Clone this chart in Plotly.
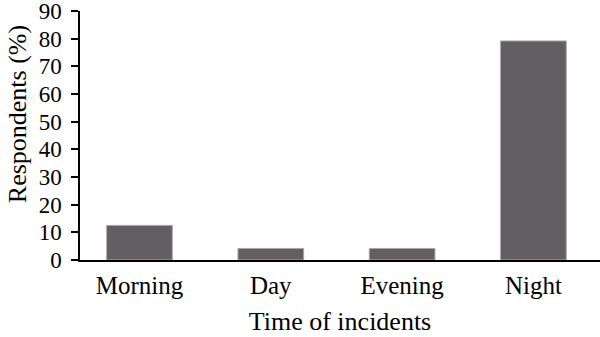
import plotly.graph_objects as go

categories = ["Morning", "Day", "Evening", "Night"]
values = [12.5, 4.17, 4.17, 79.17]
y_ticks = [0, 10, 20, 30, 40, 50, 60, 70, 80, 90]

font_family = "Liberation Serif, Times New Roman, serif"

fig = go.Figure(
    go.Bar(
        x=categories,
        y=values,
        width=0.5,
        marker=dict(color="#625e62", line=dict(color="#a8a5a7", width=1)),
        hoverinfo="x+y",
    )
)

fig.update_layout(
    width=600,
    height=337,
    margin=dict(l=80, r=0, t=11, b=77),
    paper_bgcolor="white",
    plot_bgcolor="white",
    showlegend=False,
    font=dict(family=font_family, size=25, color="black"),
    xaxis=dict(
        range=[-0.453, 3.507],
        showline=True,
        linecolor="black",
        linewidth=1.5,
        ticks="",
        showgrid=False,
        zeroline=False,
        tickfont=dict(size=25),
        ticklabelstandoff=2,
        title=dict(text="Time of incidents", font=dict(size=26), standoff=14),
        automargin=False,
    ),
    yaxis=dict(
        range=[0, 90],
        tickvals=y_ticks,
        showline=True,
        linecolor="black",
        linewidth=1.5,
        ticks="outside",
        ticklen=7,
        tickwidth=1.5,
        tickcolor="black",
        showgrid=False,
        zeroline=False,
        tickfont=dict(size=23),
        ticklabelstandoff=5,
        ticklabeloverflow="allow",
        automargin=False,
    ),
    annotations=[
        dict(
            text="Respondents (%)",
            textangle=-90,
            xref="paper",
            yref="paper",
            x=-0.121,
            y=0.586,
            xanchor="center",
            yanchor="middle",
            showarrow=False,
            font=dict(size=26, family=font_family, color="black"),
        )
    ],
)

fig.write_html("out.html")
